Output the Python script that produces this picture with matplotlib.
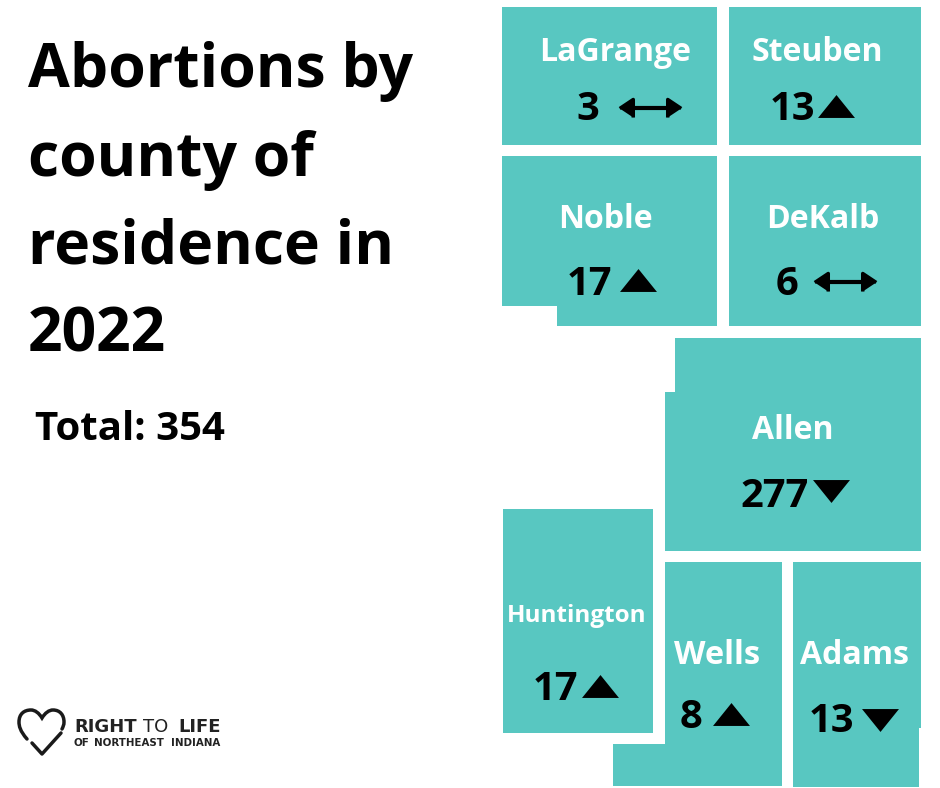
import matplotlib
matplotlib.use("Agg")
from matplotlib import pyplot as plt
from matplotlib.markers import MarkerStyle
from matplotlib.patches import Polygon, PathPatch
from matplotlib.path import Path

plt.rcParams["font.family"] = ["Open Sans", "DejaVu Sans"]

# data
title_lines = ["Abortions by", "county of", "residence in", "2022"]
total_label = "Total: 354"
counties = ["LaGrange", "Steuben", "Noble", "DeKalb", "Allen", "Huntington", "Wells", "Adams"]
counts = [3, 13, 17, 6, 277, 17, 8, 13]
trends = ["same", "up", "up", "same", "down", "up", "up", "down"]

##### layout, all in pixels of the 940x788 picture #####

shapes = [
    [(502, 7), (717, 7), (717, 145), (502, 145)],
    [(729, 7), (921, 7), (921, 145), (729, 145)],
    [(502, 156), (717, 156), (717, 326), (557, 326), (557, 306), (502, 306)],
    [(729, 156), (921, 156), (921, 326), (729, 326)],
    [(675, 338), (921, 338), (921, 551), (665, 551), (665, 392), (675, 392)],
    [(503, 509), (653, 509), (653, 733), (503, 733)],
    [(665, 562), (782, 562), (782, 786), (613, 786), (613, 744), (665, 744)],
    [(793, 562), (921, 562), (921, 728), (919, 728), (919, 787), (793, 787)],
]
name_xy = [(615, 52), (817, 52), (605, 219), (823, 219), (793, 430), (577, 616), (717, 656), (855, 656)]
name_size = [23, 23, 23, 23, 23, 17.5, 23.5, 23]
count_xy = [(588, 109), (792, 109), (589, 284), (787, 284), (775, 496), (555, 690), (691, 717), (831, 721)]
sym_xy = [(650, 108), (836, 106), (638, 280), (845, 282), (831, 491), (600, 686), (731, 714), (880, 720)]

teal = "#58c7c1"

# wide flat triangles and the heads of the double arrows
tri_up = [(-1, -0.62), (1, -0.62), (0, 0.62)]
tri_down = [(-1, 0.62), (1, 0.62), (0, -0.62)]
head_left = MarkerStyle([(-0.75, 0), (0.75, 1), (0.75, -1)], joinstyle="round")
head_right = MarkerStyle([(0.75, 0), (-0.75, 1), (-0.75, -1)], joinstyle="round")

fig = plt.figure(figsize=(9.4, 7.88), dpi=100)
ax = fig.add_axes([0, 0, 1, 1])
ax.set_xlim(0, 940)
ax.set_ylim(788, 0)
ax.axis("off")

### title block ###

for line, y in zip(title_lines, [71, 160, 248, 336]):
    ax.text(28, y, line, fontsize=43.7, fontweight="bold", color="black", va="center", ha="left")
ax.text(35, 429, total_label, fontsize=29, fontweight="bold", color="black", va="center", ha="left")

### county tiles ###

for i, name in enumerate(counties):
    ax.add_patch(Polygon(shapes[i], closed=True, facecolor=teal, edgecolor="none"))
    ax.text(name_xy[i][0], name_xy[i][1], name, fontsize=name_size[i], fontweight="bold",
            color="white", va="center", ha="center")
    ax.text(count_xy[i][0], count_xy[i][1], str(counts[i]), fontsize=28.7, fontweight="bold",
            color="black", va="center", ha="center")
    x, y = sym_xy[i]
    if trends[i] == "up":
        ax.plot(x, y, marker=tri_up, ms=26.6, color="black", mew=0, ls="none")
    elif trends[i] == "down":
        ax.plot(x, y, marker=tri_down, ms=26.6, color="black", mew=0, ls="none")
    else:
        ax.plot([x - 22, x + 22], [y, y], color="black", lw=3)
        ax.plot(x - 24, y, marker=head_left, ms=13, color="black", mew=2.5, ls="none")
        ax.plot(x + 24, y, marker=head_right, ms=13, color="black", mew=2.5, ls="none")

### logo ###

heart = Path(
    [(27, 739), (20, 731), (19, 726), (19, 722), (19, 714), (24, 710), (31, 710), (35, 710), (39, 713), (42, 718),
     (45, 713), (49, 710), (53, 710), (60, 710), (64, 715), (64, 722), (64, 725), (63, 727), (62, 729)],
    [Path.MOVETO] + [Path.CURVE4] * 18,
)
ax.add_patch(PathPatch(heart, facecolor="none", edgecolor="#1a1a1a", lw=2.5, capstyle="round"))
ax.plot([32, 42, 61], [743, 754, 733], color="#1a1a1a", lw=2.5, solid_capstyle="round")

logo_kw = dict(fontsize=13, color="#222222", va="center", ha="left", family="DejaVu Sans")
ax.text(74, 727, "RIGHT", fontweight="bold", **logo_kw)
ax.text(143, 727, "TO", **logo_kw)
ax.text(178, 727, "LIFE", fontweight="bold", **logo_kw)
sub_kw = dict(fontsize=7.4, fontweight="bold", color="#222222", va="center", ha="left", family="DejaVu Sans")
ax.text(74, 742.5, "OF", **sub_kw)
ax.text(94, 742.5, "NORTHEAST", **sub_kw)
ax.text(171, 742.5, "INDIANA", **sub_kw)

fig.savefig("out.png", dpi=100)
